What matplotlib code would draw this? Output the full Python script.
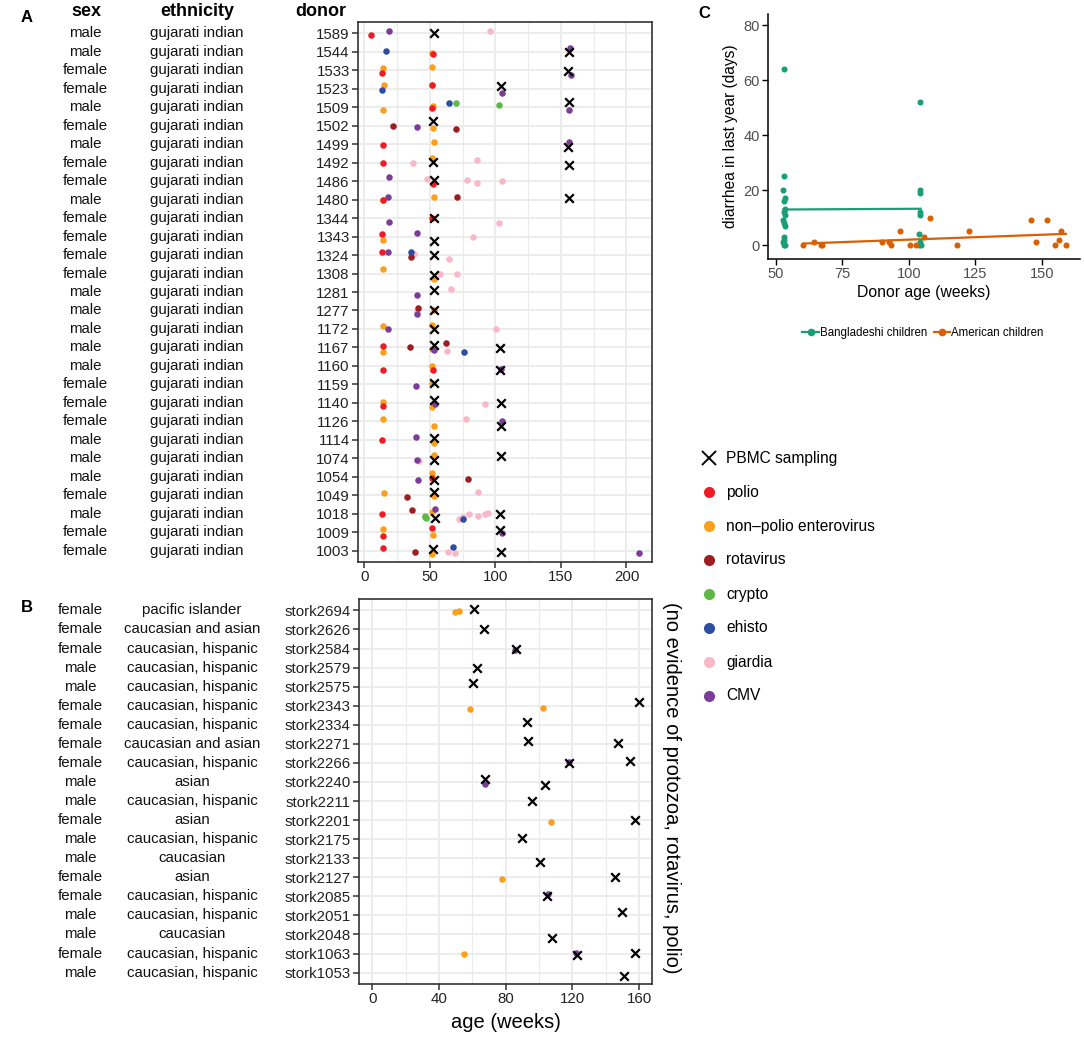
import numpy as np
import matplotlib
matplotlib.use('Agg')
import matplotlib.pyplot as plt
from matplotlib.lines import Line2D

plt.rcParams['font.family'] = ['Liberation Sans', 'DejaVu Sans']

# ---------------- panel A: gujarati indian donors ----------------
donors_a = ['1589', '1544', '1533', '1523', '1509', '1502', '1499', '1492', '1486', '1480',
            '1344', '1343', '1324', '1308', '1281', '1277', '1172', '1167', '1160', '1159',
            '1140', '1126', '1114', '1074', '1054', '1049', '1018', '1009', '1003']
sex_a = ['male', 'male', 'female', 'female', 'male', 'female', 'male', 'female', 'female', 'male',
         'female', 'female', 'female', 'female', 'male', 'male', 'male', 'male', 'male', 'female',
         'female', 'female', 'male', 'male', 'male', 'female', 'male', 'female', 'female']
ethnicity_a = ['gujarati indian'] * len(donors_a)

# (donor, age in weeks, vertical jitter in rows)
pbmc_a = [('1589', 52.8, 0), ('1544', 156, 0), ('1533', 155.6, 0.04), ('1523', 104.3, -0.16),
          ('1509', 155.8, -0.27), ('1502', 52.5, -0.22), ('1499', 155.3, 0.18), ('1492', 52.3, -0.04),
          ('1492', 156.3, 0.13), ('1486', 53.3, -0.04), ('1480', 155.8, -0.07), ('1344', 52.8, -0.02),
          ('1343', 53.3, 0.23), ('1324', 53, 0), ('1308', 52.8, 0.07), ('1281', 53, -0.13),
          ('1277', 52.8, 0), ('1172', 52.8, 0), ('1167', 53.3, -0.16), ('1167', 103.8, 0.05),
          ('1160', 103.5, 0.23), ('1159', 53.3, -0.09), ('1140', 52.8, -0.18), ('1140', 104.5, -0.02),
          ('1126', 104.5, 0.25), ('1114', 53.3, -0.11), ('1074', 53, 0.11), ('1074', 104.5, -0.14),
          ('1054', 53.3, 0.16), ('1049', 52.8, -0.18), ('1018', 53.5, 0.23), ('1018', 103.5, 0.02),
          ('1009', 103.8, -0.14), ('1003', 52.5, -0.09), ('1003', 104.5, 0.04)]
polio_a = [('1589', 5.3, 0.13), ('1544', 52, 0.14), ('1533', 13.4, 0.15), ('1523', 51.3, -0.18),
           ('1509', 51.8, 0.04), ('1499', 14.1, 0.07), ('1492', 14.4, 0), ('1486', 52.5, 0.16),
           ('1480', 13.9, 0.02), ('1344', 51.8, 0), ('1343', 13.6, -0.11), ('1324', 13.1, -0.14),
           ('1167', 14.1, -0.09), ('1160', 14.1, 0.2), ('1160', 52.5, 0.23), ('1140', 14.1, 0.18),
           ('1114', 13.6, 0.02), ('1054', 51.5, 0.04), ('1018', 13.4, 0), ('1009', 14.1, 0.18),
           ('1009', 51.5, -0.23), ('1003', 14.1, -0.18)]
npev_a = [('1544', 51.8, 0.09), ('1533', 14.4, -0.09), ('1533', 51.8, -0.14), ('1523', 14.9, -0.18),
          ('1523', 51.8, -0.18), ('1509', 13.9, 0.14), ('1509', 52, -0.07), ('1502', 52.3, 0.13),
          ('1499', 52.8, -0.09), ('1492', 51.8, -0.25), ('1480', 14.4, 0.05), ('1480', 52.8, -0.13),
          ('1343', 14.4, 0.18), ('1308', 14.4, -0.22), ('1308', 52.8, 0.27), ('1277', 52.8, -0.04),
          ('1172', 13.9, -0.16), ('1172', 51.5, -0.2), ('1167', 13.9, 0.25), ('1167', 51.5, 0.07),
          ('1160', 51.8, 0), ('1159', 51.5, -0.09), ('1140', 14.4, -0.07), ('1140', 51.5, 0.23),
          ('1126', 14.1, -0.14), ('1126', 52.8, 0.25), ('1114', 52.8, 0.18), ('1074', 52.8, -0.18),
          ('1054', 51.8, -0.23), ('1049', 14.9, -0.13), ('1049', 52.8, 0.05), ('1018', 51.5, -0.13),
          ('1009', 13.9, -0.16), ('1009', 52, 0.14), ('1003', 51.8, 0.18)]
rota_a = [('1502', 21.5, 0.05), ('1502', 69.7, 0.16), ('1480', 71, -0.11), ('1324', 35.9, 0.09),
          ('1277', 40.9, -0.13), ('1167', 35.1, -0.05), ('1167', 61.9, -0.22), ('1054', 78.8, 0.13),
          ('1049', 32.6, 0.11), ('1018', 36.4, -0.2), ('1003', 38.9, 0.04)]
crypto_a = [('1509', 70, -0.22), ('1509', 102.5, -0.09), ('1018', 46, 0.09), ('1018', 46.3, 0.14),
            ('1018', 46.7, 0.2)]
ehisto_a = [('1544', 16.4, -0.05), ('1523', 13.4, 0.09), ('1509', 64.6, -0.2), ('1324', 35.6, -0.14),
            ('1167', 75.8, 0.22), ('1018', 75, 0.25), ('1003', 67.7, -0.23)]
giardia_a = [('1589', 95.7, -0.14), ('1492', 37.4, 0.04), ('1492', 86.1, -0.16), ('1486', 47.7, -0.13),
             ('1486', 78.3, -0.05), ('1486', 85.6, 0.11), ('1486', 104.8, 0.02), ('1344', 103, 0.27),
             ('1343', 82.6, 0.04), ('1324', 37.6, -0.05), ('1324', 64.6, 0.2), ('1308', 57.6, 0.02),
             ('1308', 70.7, 0.04), ('1281', 66.2, -0.16), ('1277', 40.5, 0.05), ('1172', 100.5, 0.02),
             ('1167', 63.1, 0.18), ('1140', 92.2, 0.04), ('1126', 77.3, -0.11), ('1074', 41.7, 0.14),
             ('1049', 86.9, -0.18), ('1018', 72, 0.25), ('1018', 75.3, 0.16), ('1018', 79.5, 0),
             ('1018', 86.9, 0.09), ('1018', 91.7, -0.02), ('1018', 94.2, -0.05), ('1003', 64.1, 0.07),
             ('1003', 69.2, 0.09)]
cmv_a = [('1589', 18.7, -0.09), ('1544', 157, -0.22), ('1533', 157.6, 0.25), ('1523', 105, 0.22),
         ('1509', 156.3, 0.16), ('1502', 40.4, 0.07), ('1499', 155.8, -0.11), ('1486', 18.7, -0.22),
         ('1480', 17.7, -0.14), ('1344', 18.4, 0.23), ('1343', 40.2, -0.18), ('1324', 18.2, -0.14),
         ('1281', 40.4, 0.16), ('1277', 40.2, 0.18), ('1172', 18.2, 0.02), ('1167', 53, 0.14),
         ('1160', 104.3, 0.16), ('1159', 39.6, 0.11), ('1140', 53.8, 0.04), ('1126', 104.8, -0.04),
         ('1114', 39.6, -0.14), ('1074', 40.4, 0.07), ('1054', 40.7, 0.16), ('1018', 53.8, -0.25),
         ('1009', 105.3, 0.02), ('1003', 209.3, 0.11)]

# ---------------- panel B: stork donors ----------------
donors_b = ['stork2694', 'stork2626', 'stork2584', 'stork2579', 'stork2575', 'stork2343', 'stork2334',
            'stork2271', 'stork2266', 'stork2240', 'stork2211', 'stork2201', 'stork2175', 'stork2133',
            'stork2127', 'stork2085', 'stork2051', 'stork2048', 'stork1063', 'stork1053']
sex_b = ['female', 'female', 'female', 'male', 'male', 'female', 'female', 'female', 'female', 'male',
         'male', 'female', 'male', 'male', 'female', 'female', 'male', 'male', 'female', 'male']
ethnicity_b = ['pacific islander', 'caucasian and asian', 'caucasian, hispanic', 'caucasian, hispanic',
               'caucasian, hispanic', 'caucasian, hispanic', 'caucasian, hispanic', 'caucasian and asian',
               'caucasian, hispanic', 'asian', 'caucasian, hispanic', 'asian', 'caucasian, hispanic',
               'caucasian', 'asian', 'caucasian, hispanic', 'caucasian, hispanic', 'caucasian',
               'caucasian, hispanic', 'caucasian, hispanic']
pbmc_b = [('stork2694', 61.2, -0.07), ('stork2626', 66.8, -0.05), ('stork2584', 85.9, 0.03),
          ('stork2579', 63, 0.03), ('stork2575', 60.6, -0.19), ('stork2343', 159.8, -0.17),
          ('stork2334', 92.8, -0.17), ('stork2271', 93.6, -0.14), ('stork2271', 147.5, -0.07),
          ('stork2266', 117.9, 0.02), ('stork2266', 154.3, -0.09), ('stork2240', 67.6, -0.17),
          ('stork2240', 103.4, 0.17), ('stork2211', 96, 0), ('stork2201', 157.3, 0.02),
          ('stork2175', 89.5, -0.05), ('stork2133', 100.6, 0.18), ('stork2127', 145.5, 0),
          ('stork2085', 104.8, 0), ('stork2051', 149.5, -0.16), ('stork2048', 107.6, 0.21),
          ('stork1063', 122.7, 0.07), ('stork1063', 157.7, -0.03), ('stork1053', 151.1, 0.17)]
npev_b = [('stork2694', 49.7, 0.09), ('stork2694', 51.9, 0.02), ('stork2343', 58.6, 0.19),
          ('stork2343', 102.4, 0.12), ('stork2201', 107.2, 0.12), ('stork2127', 77.7, 0.1),
          ('stork1063', 54.7, 0.02)]
cmv_b = [('stork2584', 85.5, 0.09), ('stork2266', 117.9, -0.03), ('stork2240', 67.8, 0.1),
         ('stork2085', 105.2, -0.1), ('stork1063', 122.3, -0.03)]

# ---------------- panel C: diarrhea ----------------
bang_age = [53.2, 53.0, 52.8, 53.3, 53.1, 53.4, 52.9, 53.5, 52.8, 53.0, 53.3, 52.9, 53.1, 52.8, 53.2, 53.4,
            104.3, 104.1, 104.2, 104.0, 104.3, 103.7, 104.1, 104.4, 103.9]
bang_days = [64, 25, 20, 17, 16, 13, 12, 11, 9, 8, 7, 3, 2, 1, 0, 0,
             52, 20, 19, 12, 11, 4, 1, 0, 0]
amer_age = [60.3, 64.4, 67.2, 67.0, 89.9, 92.6, 93.4, 96.6, 100.3, 102.8, 105.6, 107.9, 118.1, 122.6,
            146, 147.6, 151.8, 155, 156.4, 157.1, 159]
amer_days = [0, 1, 0, 0, 1, 1, 0, 5, 0, 0, 3, 10, 0, 5, 9, 1, 9, 0, 2, 5, 0]

colors = {'polio': '#EE1D25', 'non\u2013polio enterovirus': '#FBA01D', 'rotavirus': '#9C1D22',
          'crypto': '#5DB847', 'ehisto': '#2C4DA0', 'giardia': '#F8B8C8', 'CMV': '#7A3E98'}
grid_col = '#EBEBEB'
txt = 10.8
fig = plt.figure(figsize=(10.84, 10.43), dpi=100)


def draw_events(ax, rows, pts, col, marker='o'):
    idx = {d: i for i, d in enumerate(rows)}
    x = [p[1] for p in pts]
    y = [idx[p[0]] + p[2] for p in pts]
    if marker == 'x':
        ax.scatter(x, y, marker='x', s=38, c='black', linewidths=1.6, zorder=5)
    else:
        ax.scatter(x, y, s=22, c=col, linewidths=0, zorder=4)


def style_panel(ax, rows, xlim, major, minor):
    ax.set_xlim(xlim)
    ax.set_ylim(len(rows) - 1 + 0.6, -0.6)
    ax.set_xticks(major)
    ax.set_xticks(minor, minor=True)
    ax.set_yticks(range(len(rows)))
    ax.set_yticklabels(rows)
    ax.grid(True, which='major', color=grid_col, lw=1.3, zorder=0)
    ax.grid(True, which='minor', axis='x', color=grid_col, lw=0.8, zorder=0)
    ax.set_axisbelow(True)
    for s in ax.spines.values():
        s.set_color('#333333')
        s.set_linewidth(1.2)
    ax.tick_params(which='major', length=4, width=1.1, color='#333333', labelsize=txt,
                   labelcolor='#222222', pad=2)
    ax.tick_params(which='minor', length=0)


def side_text(ax, rows, sexes, eths, xs, xe):
    for i in range(len(rows)):
        ax.text(xs, i, sexes[i], transform=ax.get_yaxis_transform(), ha='center', va='center',
                fontsize=txt, color='#111111')
        ax.text(xe, i, eths[i], transform=ax.get_yaxis_transform(), ha='center', va='center',
                fontsize=txt, color='#111111')


# panel A
axA = fig.add_axes([358 / 1084, 1 - 562 / 1043, 294 / 1084, 540 / 1043])
style_panel(axA, donors_a, (-4.9, 219.5), [0, 50, 100, 150, 200], [25, 75, 125, 175])
for pts, name in [(giardia_a, 'giardia'), (npev_a, 'non\u2013polio enterovirus'), (polio_a, 'polio'),
                  (rota_a, 'rotavirus'), (crypto_a, 'crypto'), (ehisto_a, 'ehisto'), (cmv_a, 'CMV')]:
    draw_events(axA, donors_a, pts, colors[name])
draw_events(axA, donors_a, pbmc_a, None, 'x')
side_text(axA, donors_a, sex_a, ethnicity_a, (85 - 358) / 294, (197 - 358) / 294)

# panel B
axB = fig.add_axes([359 / 1084, 1 - 984 / 1043, 293 / 1084, 385 / 1043])
style_panel(axB, donors_b, (-8, 167.8), [0, 40, 80, 120, 160], [20, 60, 100, 140])
draw_events(axB, donors_b, npev_b, colors['non\u2013polio enterovirus'])
draw_events(axB, donors_b, cmv_b, colors['CMV'])
draw_events(axB, donors_b, pbmc_b, None, 'x')
side_text(axB, donors_b, sex_b, ethnicity_b, (80 - 359) / 293, (192 - 359) / 293)
axB.set_xlabel('age (weeks)', fontsize=14.5, labelpad=5)
fig.text(672 / 1084, 1 - 788 / 1043, '(no evidence of protozoa, rotavirus, polio)', rotation=270,
         ha='center', va='center', fontsize=14.5)

# headers and panel letters
for label, xc in [('sex', 86), ('ethnicity', 197), ('donor', 321)]:
    fig.text(xc / 1084, 1 - 12 / 1043, label, ha='center', va='center', fontsize=13, fontweight='bold')
fig.text(27 / 1084, 1 - 18 / 1043, 'A', ha='center', va='center', fontsize=12, fontweight='bold')
fig.text(27 / 1084, 1 - 607 / 1043, 'B', ha='center', va='center', fontsize=12, fontweight='bold')
fig.text(704 / 1084, 1 - 14 / 1043, 'C', ha='center', va='center', fontsize=12, fontweight='bold')

# legend for A/B
leg_items = ['polio', 'non\u2013polio enterovirus', 'rotavirus', 'crypto', 'ehisto', 'giardia', 'CMV']
fig.text(726 / 1084, 1 - 458 / 1043, 'PBMC sampling', ha='left', va='center', fontsize=11.2)
fig.lines.append(Line2D([709 / 1084], [1 - 458 / 1043], marker='x', ms=10, mew=1.4, color='black',
                        ls='none', transform=fig.transFigure, figure=fig))
for k, name in enumerate(leg_items):
    yy = 1 - (492 + 34 * k) / 1043
    fig.lines.append(Line2D([709 / 1084], [yy], marker='o', ms=8, mew=0, color=colors[name],
                            ls='none', transform=fig.transFigure, figure=fig))
    fig.text(726 / 1084, yy, name, ha='left', va='center', fontsize=11.2)

# panel C
axC = fig.add_axes([768 / 1084, 1 - 259 / 1043, 312 / 1084, 245 / 1043])
green, orange = '#1B9E77', '#D95F02'
for ages, days, col in [(bang_age, bang_days, green), (amer_age, amer_days, orange)]:
    axC.scatter(ages, days, s=19, c=col, linewidths=0, zorder=3)
    slope, icept = np.polyfit(ages, days, 1)
    xs = np.array([min(ages), max(ages)])
    axC.plot(xs, slope * xs + icept, color=col, lw=1.6, zorder=2)
axC.set_xlim(47, 164.3)
axC.set_ylim(-5, 84)
axC.set_xticks([50, 75, 100, 125, 150])
axC.set_yticks([0, 20, 40, 60, 80])
for s in ['top', 'right']:
    axC.spines[s].set_visible(False)
for s in ['left', 'bottom']:
    axC.spines[s].set_linewidth(1.1)
axC.tick_params(length=4, width=1.0, labelsize=10.5, labelcolor='#4D4D4D', pad=2)
axC.set_xlabel('Donor age (weeks)', fontsize=11.3, labelpad=3)
axC.set_ylabel('diarrhea in last year (days)', fontsize=11.2, labelpad=4)
handles = [Line2D([], [], color=green, marker='o', ms=4.5, lw=1.6),
           Line2D([], [], color=orange, marker='o', ms=4.5, lw=1.6)]
fig.legend(handles, ['Bangladeshi children', 'American children'], loc='center',
           bbox_to_anchor=(923 / 1084, 1 - 333 / 1043), ncol=2, frameon=False, fontsize=8.3,
           handlelength=1.4, handletextpad=0.1, columnspacing=0.6)

fig.savefig('out.png', dpi=100)
